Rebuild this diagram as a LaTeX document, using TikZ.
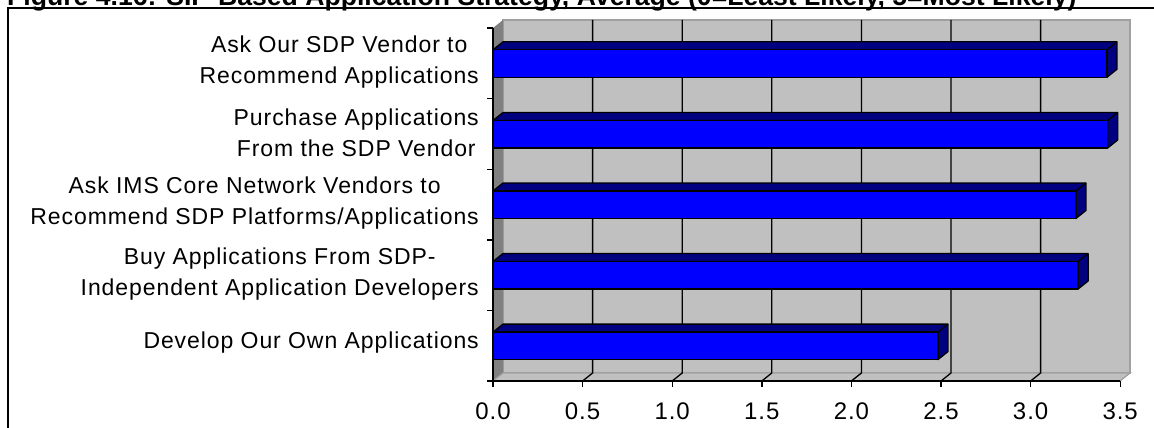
\documentclass[tikz,border=0pt]{standalone}
\usepackage{fontspec}
\setmainfont{Liberation Sans}
\newfontfamily\labfont[LetterSpace=4]{Liberation Sans}
\definecolor{wallgray}{HTML}{C0C0C0}
\definecolor{sidegray}{HTML}{808080}
\definecolor{edgegray}{HTML}{A0A0A0}
\definecolor{barblue}{HTML}{0000FF}
\definecolor{bardark}{HTML}{000080}
\tikzset{
  catlabel/.style={align=center, anchor=east, inner sep=0pt, font=\labfont\fontsize{23}{31}\selectfont},
  ticklabel/.style={anchor=center, inner sep=0pt, font=\labfont\fontsize{24}{28}\selectfont},
  axisline/.style={black, line width=1.4pt},
  gridline/.style={black, line width=1.3pt},
  baredge/.style={draw=black, line width=1.3pt, line join=round},
  framestyle/.style={black, line width=2pt}
}
\begin{document}
\begin{tikzpicture}[x=1pt,y=-1pt]
\useasboundingbox (0,0) rectangle (1154,428);
\clip (0,0) rectangle (1154,428);
\fill[white] (0,0) rectangle (1154,428);
% title (clipped at the top)
\node[anchor=base west, inner sep=0pt, font=\bfseries\fontsize{26.6}{30}\selectfont] (title) at (7,6) {Figure 4.16: SIP-Based Application Strategy, Average (0=Least Likely, 5=Most Likely)};
% frame
\draw[framestyle] (7,8.5) -- (1160,8.5);
\draw[framestyle] (8,7.5) -- (8,440);
% back wall
\fill[wallgray, draw=edgegray, line width=1.2pt] (503,20) rectangle (1130,373);
% left side wall
\fill[sidegray] (493,28) -- (503,20) -- (503,373) -- (493,381) -- cycle;
% floor
\fill[wallgray, draw=edgegray, line width=1.2pt] (493,381) -- (503,373) -- (1130,373) -- (1120,381) -- cycle;
% grid lines
\foreach \k in {1,...,6} {
  \draw[gridline] ({503+89.6*\k},20) -- ({503+89.6*\k},373) -- ({493+89.6*\k},381);
}
% axes
\draw[axisline] (493,28) -- (493,381) -- (1120,381);
\foreach \k in {0,...,5} {
  \draw[axisline] (487,{28+70.6*\k}) -- (493,{28+70.6*\k});
}
\foreach \k in {0,...,7} {
  \draw[axisline] ({493+89.6*\k},381) -- ({493+89.6*\k},387);
}
% bars
\foreach \v/\c in {3.426/63.3, 3.43/134, 3.253/204.5, 3.265/275, 2.483/345.6} {
  \pgfmathsetmacro\xr{493+179.2*\v}
  \pgfmathsetmacro\yt{\c-13.5}
  \pgfmathsetmacro\yb{\c+14}
  \filldraw[fill=bardark, baredge] (493,\yt) -- (503,\yt-8) -- (\xr+10,\yt-8) -- (\xr+10,\yb-8) -- (\xr,\yb) -- (\xr,\yt) -- cycle;
  \filldraw[fill=barblue, baredge] (493,\yt) rectangle (\xr,\yb);
  \draw[baredge] (\xr,\yt) -- (\xr+10,\yt-8);
}
% category labels
\node[catlabel] (c1) at (479,61.8) {Ask Our SDP Vendor to\\Recommend Applications};
\node[catlabel] (c2) at (479,132.5) {Purchase Applications\\From the SDP Vendor};
\node[catlabel] (c3) at (479,203) {Ask IMS Core Network Vendors to\\Recommend SDP Platforms/Applications};
\node[catlabel] (c4) at (479,274) {Buy Applications From SDP-\\Independent Application Developers};
\node[catlabel] (c5) at (479,343) {Develop Our Own Applications};
% tick labels
\foreach \t [count=\k from 0] in {0.0,0.5,1.0,1.5,2.0,2.5,3.0,3.5} {
  \node[ticklabel] (t\k) at ({493+89.6*\k},411) {\t};
}
\end{tikzpicture}
\end{document}
